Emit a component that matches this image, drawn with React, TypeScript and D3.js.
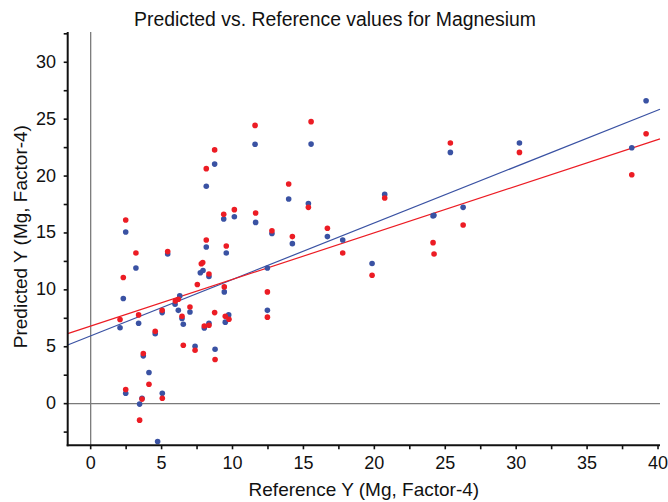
import React from "react";
import * as d3 from "d3";

const TITLE = "Predicted vs. Reference values for Magnesium";
const X_LABEL = "Reference Y (Mg, Factor-4)";
const Y_LABEL = "Predicted Y (Mg, Factor-4)";

const xTickValues = [0, 5, 10, 15, 20, 25, 30, 35, 40];
const yTickValues = [0, 5, 10, 15, 20, 25, 30];

// Series A (blue)
const blueRef = [2.07, 2.3, 2.47, 2.47, 3.19, 3.38, 3.45, 3.62, 3.71, 4.11, 4.55, 4.72, 5.04, 5.05, 5.43, 5.95, 6.18, 6.28, 6.44, 6.53, 7.0, 7.36, 7.73, 7.92, 8.01, 8.15, 8.15, 8.34, 8.34, 8.74, 8.77, 9.42, 9.49, 9.56, 9.38, 9.73, 10.13, 11.59, 11.63, 12.46, 12.46, 12.78, 13.96, 14.22, 15.35, 15.54, 16.69, 17.77, 19.84, 20.73, 24.14, 24.2, 25.36, 26.26, 30.23, 38.15, 39.16];
const bluePred = [6.67, 9.24, 15.08, 0.92, 11.92, 7.07, -0.04, 0.48, 4.2, 2.74, 6.15, -3.32, 8.0, 0.92, 13.15, 8.74, 8.2, 9.47, 7.48, 6.98, 8.06, 5.05, 11.5, 11.7, 6.65, 13.77, 19.1, 11.17, 7.07, 21.05, 4.78, 9.82, 7.16, 13.24, 16.23, 7.8, 16.43, 22.8, 15.93, 11.92, 8.2, 14.95, 17.98, 14.06, 17.58, 22.81, 14.68, 14.38, 12.31, 18.39, 16.5, 16.55, 22.08, 17.25, 22.9, 22.49, 26.62];

// Series B (red)
const redRef = [2.07, 2.3, 2.47, 2.47, 3.19, 3.38, 3.45, 3.62, 3.71, 4.11, 4.55, 5.04, 5.05, 5.43, 5.97, 6.18, 6.44, 6.53, 7.0, 7.36, 7.52, 7.8, 7.9, 8.01, 8.15, 8.15, 8.34, 8.34, 8.74, 8.74, 8.77, 9.42, 9.49, 9.56, 9.38, 9.75, 10.13, 11.59, 11.63, 12.46, 12.46, 12.78, 13.96, 14.22, 15.35, 15.54, 16.69, 17.77, 19.84, 20.73, 24.14, 24.21, 25.36, 26.26, 30.23, 38.15, 39.16];
const redPred = [7.39, 11.08, 16.14, 1.25, 13.24, 7.8, -1.45, 0.4, 4.41, 1.71, 6.36, 8.2, 0.48, 13.36, 9.03, 9.17, 7.68, 5.13, 8.5, 4.69, 10.47, 12.3, 12.4, 6.83, 14.38, 20.65, 11.4, 6.89, 22.3, 8.0, 3.88, 10.26, 7.68, 13.86, 16.64, 7.42, 17.05, 24.45, 16.75, 9.82, 7.6, 15.2, 19.3, 14.68, 17.25, 24.78, 15.41, 13.24, 11.28, 18.07, 14.15, 13.15, 22.9, 15.7, 22.08, 20.12, 23.72];

// Regression lines [blue, red]
const fitIntercepts = [5.96, 6.82];
const fitSlopes = [0.496, 0.4097];

const BLUE = "#3a52a3";
const RED = "#ec1c24";

const W = 668;
const H = 502;
const X0 = 67.7;
const X1 = 660;
const Y0 = 445.3;
const Y1 = 32;

const xDomain: [number, number] = [-1.62, 40.14];
const yDomain: [number, number] = [-3.66, 32.66];

export default function App() {
  const x = d3.scaleLinear().domain(xDomain).range([X0, X1]);
  const y = d3.scaleLinear().domain(yDomain).range([Y0, Y1]);

  const xMinor = d3.range(0, 40.01, 2.5);
  const yMinor = d3.range(-2.5, 32.51, 2.5);

  const fitPath = (k: number) => {
    const pts: [number, number][] = xDomain.map((xv) => [xv, fitIntercepts[k] + fitSlopes[k] * xv]);
    return d3.line<[number, number]>().x((d) => x(d[0])).y((d) => y(d[1]))(pts) || "";
  };

  const font = "'Liberation Sans', Arial, Helvetica, sans-serif";

  return (
    <svg
      width={W}
      height={H}
      style={{ position: "absolute", left: 0, top: 0, background: "#fff" }}
      fontFamily={font}
    >
      <rect x={0} y={0} width={W} height={H} fill="#fff" />
      <text x={335} y={26} textAnchor="middle" fontSize={19.4} fill="#111">
        {TITLE}
      </text>

      {/* reference lines */}
      <line x1={x(0)} x2={x(0)} y1={Y1} y2={Y0} stroke="#7a7a7a" strokeWidth={1.3} />
      <line x1={X0} x2={X1} y1={y(0)} y2={y(0)} stroke="#7a7a7a" strokeWidth={1.3} />

      {/* fit lines */}
      <path d={fitPath(0)} stroke={BLUE} strokeWidth={1.2} fill="none" />
      <path d={fitPath(1)} stroke={RED} strokeWidth={1.2} fill="none" />

      {/* points */}
      {blueRef.map((xv, i) => (
        <circle key={"b" + i} cx={x(xv)} cy={y(bluePred[i])} r={2.8} fill={BLUE} />
      ))}
      {redRef.map((xv, i) => (
        <circle key={"r" + i} cx={x(xv)} cy={y(redPred[i])} r={2.8} fill={RED} />
      ))}

      {/* axes */}
      <line x1={X0} x2={X0} y1={Y1} y2={Y0 + 1} stroke="#111" strokeWidth={2} />
      <line x1={X0 - 1} x2={X1} y1={Y0} y2={Y0} stroke="#111" strokeWidth={2} />

      {xMinor.map((t, i) => (
        <line key={"xt" + i} x1={x(t)} x2={x(t)} y1={Y0} y2={Y0 + 4} stroke="#111" strokeWidth={1.6} />
      ))}
      {yMinor.map((t, i) => (
        <line key={"yt" + i} x1={X0 - 4} x2={X0} y1={y(t)} y2={y(t)} stroke="#111" strokeWidth={1.6} />
      ))}

      {xTickValues.map((t) => (
        <text key={"xl" + t} x={x(t)} y={469} textAnchor="middle" fontSize={18} fill="#111">
          {t}
        </text>
      ))}
      {yTickValues.map((t) => (
        <text key={"yl" + t} x={56} y={y(t) + 5.5} textAnchor="end" fontSize={18} fill="#111">
          {t}
        </text>
      ))}

      <text x={(X0 + X1) / 2} y={496} textAnchor="middle" fontSize={19} fill="#111">
        {X_LABEL}
      </text>
      <text
        transform={`translate(27, ${(Y0 + Y1) / 2 - 2}) rotate(-90)`}
        textAnchor="middle"
        fontSize={19}
        fill="#111"
      >
        {Y_LABEL}
      </text>
    </svg>
  );
}
